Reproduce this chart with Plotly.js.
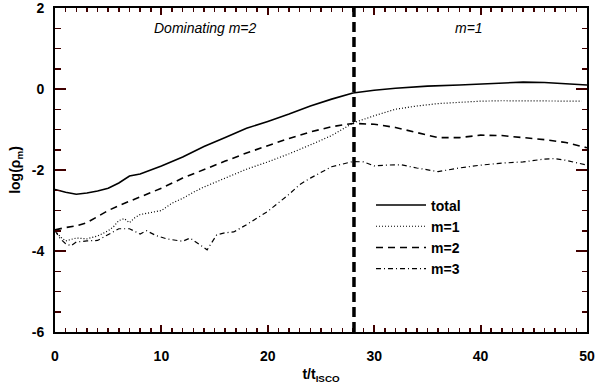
<!DOCTYPE html>
<html>
<head>
<meta charset="utf-8">
<script src="https://cdn.plot.ly/plotly-3.0.1.min.js"></script>
<style>
  html, body { margin: 0; padding: 0; background: #fff; }
  #chart { width: 600px; height: 384px; }
</style>
</head>
<body>
<div id="chart"></div>
<script>
// time axis, in units of t_ISCO
const tTotal = [0, 1, 2, 3, 4, 5, 6, 7, 8, 9, 10, 12, 14, 16, 18, 20, 22, 24, 26, 28, 30, 32, 35, 38, 40, 42, 44, 46, 48, 50];
const total  = [-2.48, -2.55, -2.6, -2.57, -2.52, -2.45, -2.32, -2.15, -2.1, -2.0, -1.9, -1.68, -1.42, -1.2, -0.97, -0.8, -0.62, -0.42, -0.25, -0.1, -0.03, 0.02, 0.07, 0.1, 0.12, 0.15, 0.17, 0.16, 0.13, 0.1];

const tM1 = [0, 0.5, 1, 1.5, 2, 3, 4, 5, 5.5, 6, 6.5, 7, 7.5, 8, 9, 10, 11, 12, 13, 14, 16, 18, 20, 22, 24, 26, 28, 30, 32, 34, 36, 38, 40, 42, 44, 46, 48, 49.5];
const m1  = [-3.5, -3.65, -3.75, -3.72, -3.68, -3.7, -3.63, -3.5, -3.4, -3.25, -3.2, -3.3, -3.18, -3.1, -3.05, -3.0, -2.82, -2.7, -2.55, -2.42, -2.2, -1.98, -1.8, -1.6, -1.38, -1.15, -0.84, -0.66, -0.5, -0.42, -0.36, -0.33, -0.3, -0.29, -0.29, -0.29, -0.3, -0.3];

const tM2 = [0, 1, 2, 3, 4, 5, 6, 7, 8, 9, 10, 12, 14, 16, 18, 20, 22, 24, 26, 28, 30, 32, 34, 36, 38, 40, 42, 44, 46, 48, 50];
const m2  = [-3.48, -3.42, -3.38, -3.3, -3.15, -3.0, -2.88, -2.77, -2.66, -2.56, -2.45, -2.2, -1.98, -1.78, -1.58, -1.4, -1.22, -1.06, -0.93, -0.85, -0.87, -0.95, -1.08, -1.2, -1.2, -1.14, -1.15, -1.2, -1.25, -1.32, -1.45];

const tM3 = [0, 0.5, 1, 1.5, 2, 3, 4, 5, 6, 7, 8, 8.6, 9.5, 10.5, 12, 12.7, 13.5, 14.3, 15.2, 16, 16.8, 18, 20, 22, 23, 24, 26, 28, 29, 30, 31, 32.5, 34, 36, 38, 40, 42, 44, 46, 47, 48, 50];
const m3  = [-3.5, -3.7, -3.82, -3.87, -3.78, -3.75, -3.74, -3.6, -3.45, -3.45, -3.58, -3.5, -3.62, -3.7, -3.76, -3.68, -3.82, -3.97, -3.6, -3.55, -3.53, -3.35, -3.02, -2.6, -2.36, -2.2, -1.92, -1.79, -1.8, -1.9, -1.88, -1.87, -1.95, -2.04, -1.95, -1.88, -1.83, -1.8, -1.73, -1.72, -1.76, -1.88];

// where m=1 takes over from m=2
const transitionT = 28.1;

const yTickVals = [-6, -4, -2, 0, 2];
const yTickText = ["-6", "-4", "-2", "0", "2"];

const font = "Liberation Sans, Arial, Helvetica, sans-serif";
// grey/black ticks vanished in the render, coloured ones did not
const tickInk = "#400000";

const traces = [
    { x: tTotal, y: total, name: "total", mode: "lines",
      line: { color: "#000", width: 1.6 } },
    { x: tM1, y: m1, name: "m=1", mode: "lines",
      line: { color: "#000", width: 1.2, dash: "1px,2px" } },
    { x: tM2, y: m2, name: "m=2", mode: "lines",
      line: { color: "#000", width: 1.6, dash: "7px,5px" } },
    { x: tM3, y: m3, name: "m=3", mode: "lines",
      line: { color: "#000", width: 1.2, dash: "5px,3px,1px,3px" } }
];

const layout = {
    width: 600,
    height: 384,
    margin: { l: 55, r: 13, t: 8, b: 52 },
    paper_bgcolor: "#fff",
    plot_bgcolor: "#fff",
    font: { family: font, size: 13, color: "#000" },
    showlegend: true,
    legend: {
        x: 0.594, y: 0.44, xanchor: "left", yanchor: "top",
        bgcolor: "rgba(0,0,0,0)",
        font: { family: font, size: 14, color: "#000", weight: "bold" },
        itemwidth: 50,
        tracegroupgap: 0
    },
    xaxis: {
        range: [0, 50],
        dtick: 10,
        ticks: "inside",
        ticklen: 7,
        tickwidth: 2,
        tickcolor: tickInk,
        minor: { dtick: 1, ticks: "inside", ticklen: 4, tickwidth: 1.5, tickcolor: tickInk },
        showline: true, linewidth: 2, linecolor: "#000",
        mirror: "allticks",
        showgrid: false, zeroline: false,
        ticklabelstandoff: 10,
        tickfont: { family: font, size: 14, weight: "bold" },
        title: { text: "t/t<sub>ISCO</sub>", font: { family: font, size: 14, weight: "bold" }, standoff: 8 }
    },
    yaxis: {
        range: [-6, 2],
        tickvals: yTickVals,
        ticktext: yTickText,
        ticks: "inside",
        ticklen: 11,
        tickwidth: 2,
        tickcolor: tickInk,
        minor: { dtick: 0.5, ticks: "inside", ticklen: 5.5, tickwidth: 1.5, tickcolor: tickInk },
        showline: true, linewidth: 2, linecolor: "#000",
        mirror: "allticks",
        showgrid: false, zeroline: false,
        ticklabelstandoff: 6,
        ticklabeloverflow: "allow",
        tickfont: { family: font, size: 14, weight: "bold" },
        title: { text: "log(ρ<sub>m</sub>)", font: { family: font, size: 14, weight: "bold" }, standoff: 8 }
    },
    // extra tick marks along the left edge, pointing into the plot
    yaxis2: {
        overlaying: "y",
        anchor: "free",
        position: 0,
        side: "right",
        range: [-6, 2],
        tickvals: yTickVals,
        ticks: "outside",
        ticklen: 11,
        tickwidth: 2,
        tickcolor: tickInk,
        minor: { dtick: 0.5, ticks: "outside", ticklen: 5.5, tickwidth: 1.5, tickcolor: tickInk },
        showticklabels: false,
        showline: false, showgrid: false, zeroline: false
    },
    shapes: [{
        type: "line", xref: "x", yref: "paper",
        x0: transitionT, x1: transitionT, y0: 0, y1: 1,
        line: { color: "#000", width: 3.5, dash: "10px,5px" }
    }],
    annotations: [
        { x: 14.1, y: 1.5, xref: "x", yref: "y", text: "Dominating m=2", showarrow: false,
          font: { family: font, size: 14, style: "italic", color: "#000" } },
        { x: 38.9, y: 1.5, xref: "x", yref: "y", text: "m=1", showarrow: false,
          font: { family: font, size: 14, style: "italic", color: "#000" } }
    ]
};

Plotly.newPlot("chart", traces, layout, { displayModeBar: false, staticPlot: true });
</script>
</body>
</html>
